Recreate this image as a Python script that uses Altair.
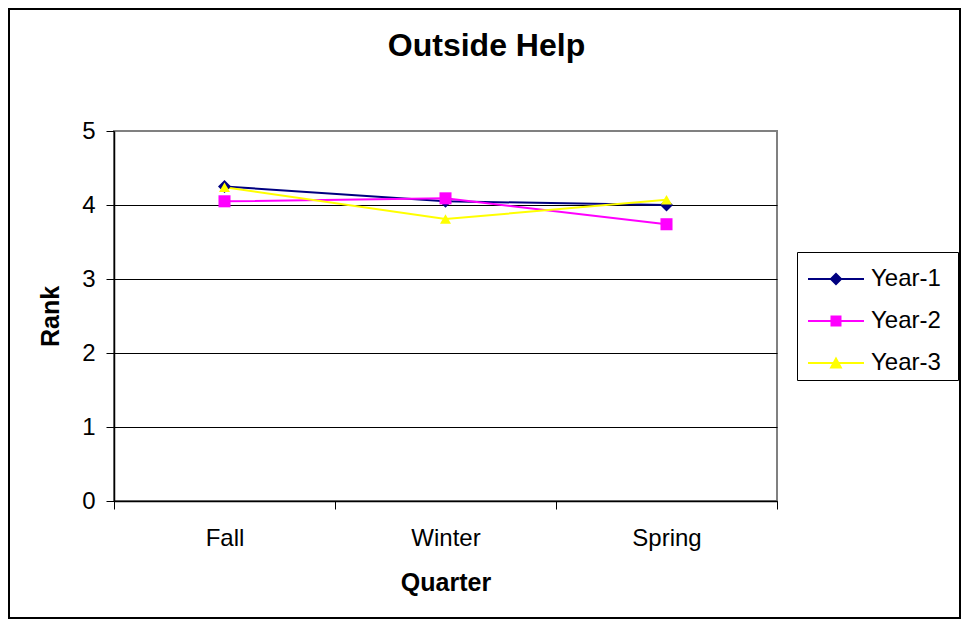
import altair as alt
import pandas as pd

# ---- data ----
quarters = ["Fall", "Winter", "Spring"]
series = ["Year-1", "Year-2", "Year-3"]
year1 = [4.25, 4.05, 4.00]
year2 = [4.05, 4.09, 3.74]
year3 = [4.24, 3.81, 4.07]

colors = ["#000080", "#FF00FF", "#FFFF00"]
shapes = ["diamond", "square", "triangle-up"]
marker_sizes = [169, 121, 169]
# legend symbols: a line segment with the marker on it (unit = 21 px)
LINE = "M-0.762,-0.048L1.904,-0.048L1.904,0.048L-0.762,0.048Z"
legend_paths = [
    LINE + "M0.261,0L0.571,-0.31L0.881,0L0.571,0.31Z",
    LINE + "M0.309,-0.262L0.833,-0.262L0.833,0.262L0.309,0.262Z",
    LINE + "M0.571,-0.31L0.881,0.26L0.261,0.26Z",
]

rows = []
for s, vals in zip(series, [year1, year2, year3]):
    for q, v in zip(quarters, vals):
        rows.append({"Quarter": q, "Rank": v, "Series": s})
df = pd.DataFrame(rows)

FONT = "Liberation Sans"
W, H = 663, 370
BLANK = "\u2800"

x_enc = alt.X(
    "Quarter:N",
    sort=quarters,
    bandPosition=0.5,
    scale=alt.Scale(type="band", paddingInner=0, paddingOuter=0),
    axis=alt.Axis(
        title="Quarter",
        tickBand="extent",
        labelAngle=0,
        grid=False,
        domainColor="black",
        domainWidth=1.5,
        tickColor="black",
        tickSize=8,
        labelFont=FONT,
        labelFontSize=24,
        labelColor="black",
        labelPadding=17,
        titleFont=FONT,
        titleFontSize=25,
        titleFontWeight="bold",
        titleColor="black",
        titleBaseline="alphabetic",
        titleX=W / 2,
        titleY=89,
    ),
)

y_enc = alt.Y(
    "Rank:Q",
    scale=alt.Scale(domain=[0, 5], nice=False),
    axis=alt.Axis(
        title="Rank",
        values=[0, 1, 2, 3, 4, 5],
        format="d",
        grid=True,
        gridColor=alt.condition("datum.value === 5", alt.value("#808080"), alt.value("black")),
        gridWidth=1,
        domainColor="black",
        domainWidth=1.5,
        tickColor="black",
        tickSize=8,
        labelFont=FONT,
        labelFontSize=24,
        labelColor="black",
        labelPadding=11,
        titleFont=FONT,
        titleFontSize=25,
        titleFontWeight="bold",
        titleColor="black",
        titleBaseline="alphabetic",
        titleX=-56,
        titleY=H / 2,
    ),
)

base = alt.Chart(df)

lines = base.mark_line(strokeWidth=2).encode(
    x=x_enc,
    y=y_enc,
    color=alt.Color("Series:N", scale=alt.Scale(domain=series, range=colors), legend=None),
)

points = base.mark_point(filled=True, opacity=1).encode(
    x=x_enc,
    y=y_enc,
    color=alt.Color("Series:N", scale=alt.Scale(domain=series, range=colors), legend=None),
    shape=alt.Shape("Series:N", scale=alt.Scale(domain=series, range=shapes), legend=None),
    size=alt.Size("Series:O", scale=alt.Scale(domain=series, range=marker_sizes), legend=None),
)

legend_spec = dict(
    orient="none",
    legendX=683,
    legendY=121,
    title=BLANK,
    titleOrient="right",
    titleFontSize=1,
    titlePadding=11,
    padding=5,
    strokeColor="black",
    fillColor="white",
    labelFont=FONT,
    labelFontSize=24,
    labelColor="black",
    labelOffset=25,
    labelLimit=300,
    rowPadding=8,
    symbolSize=1764,
    symbolOpacity=1,
)

legend_layer = base.transform_filter("false").mark_point(
    filled=True, opacity=1, size=1764
).encode(
    x=x_enc,
    y=y_enc,
    color=alt.Color("Series:N", scale=alt.Scale(domain=series, range=colors),
                    legend=alt.Legend(**legend_spec)),
    shape=alt.Shape("Series:N", scale=alt.Scale(domain=series, range=legend_paths),
                    legend=alt.Legend(**legend_spec)),
)

frame = alt.Chart(pd.DataFrame({"f": [0]})).mark_rect(
    filled=False, stroke="black", strokeWidth=2, clip=False
).encode(
    x=alt.value(-105), x2=alt.value(846), y=alt.value(-122), y2=alt.value(487)
)

chart = (
    alt.layer(frame, lines, points, legend_layer)
    .resolve_scale(color="independent", shape="independent", size="independent")
    .properties(
        width=W,
        height=H,
        title=alt.TitleParams(
            "Outside Help",
            font=FONT,
            fontSize=32,
            fontWeight="bold",
            color="black",
            anchor="middle",
            frame="group",
            dx=41,
            dy=80,
            baseline="alphabetic",
            offset=0,
        ),
        autosize=alt.AutoSizeParams(type="none"),
        padding={"left": 106, "top": 123, "right": 184, "bottom": 118},
        background="white",
    )
    .configure_view(stroke="#808080", strokeWidth=2)
)

chart.save("out.html", embed_options={"renderer": "svg", "actions": False})
